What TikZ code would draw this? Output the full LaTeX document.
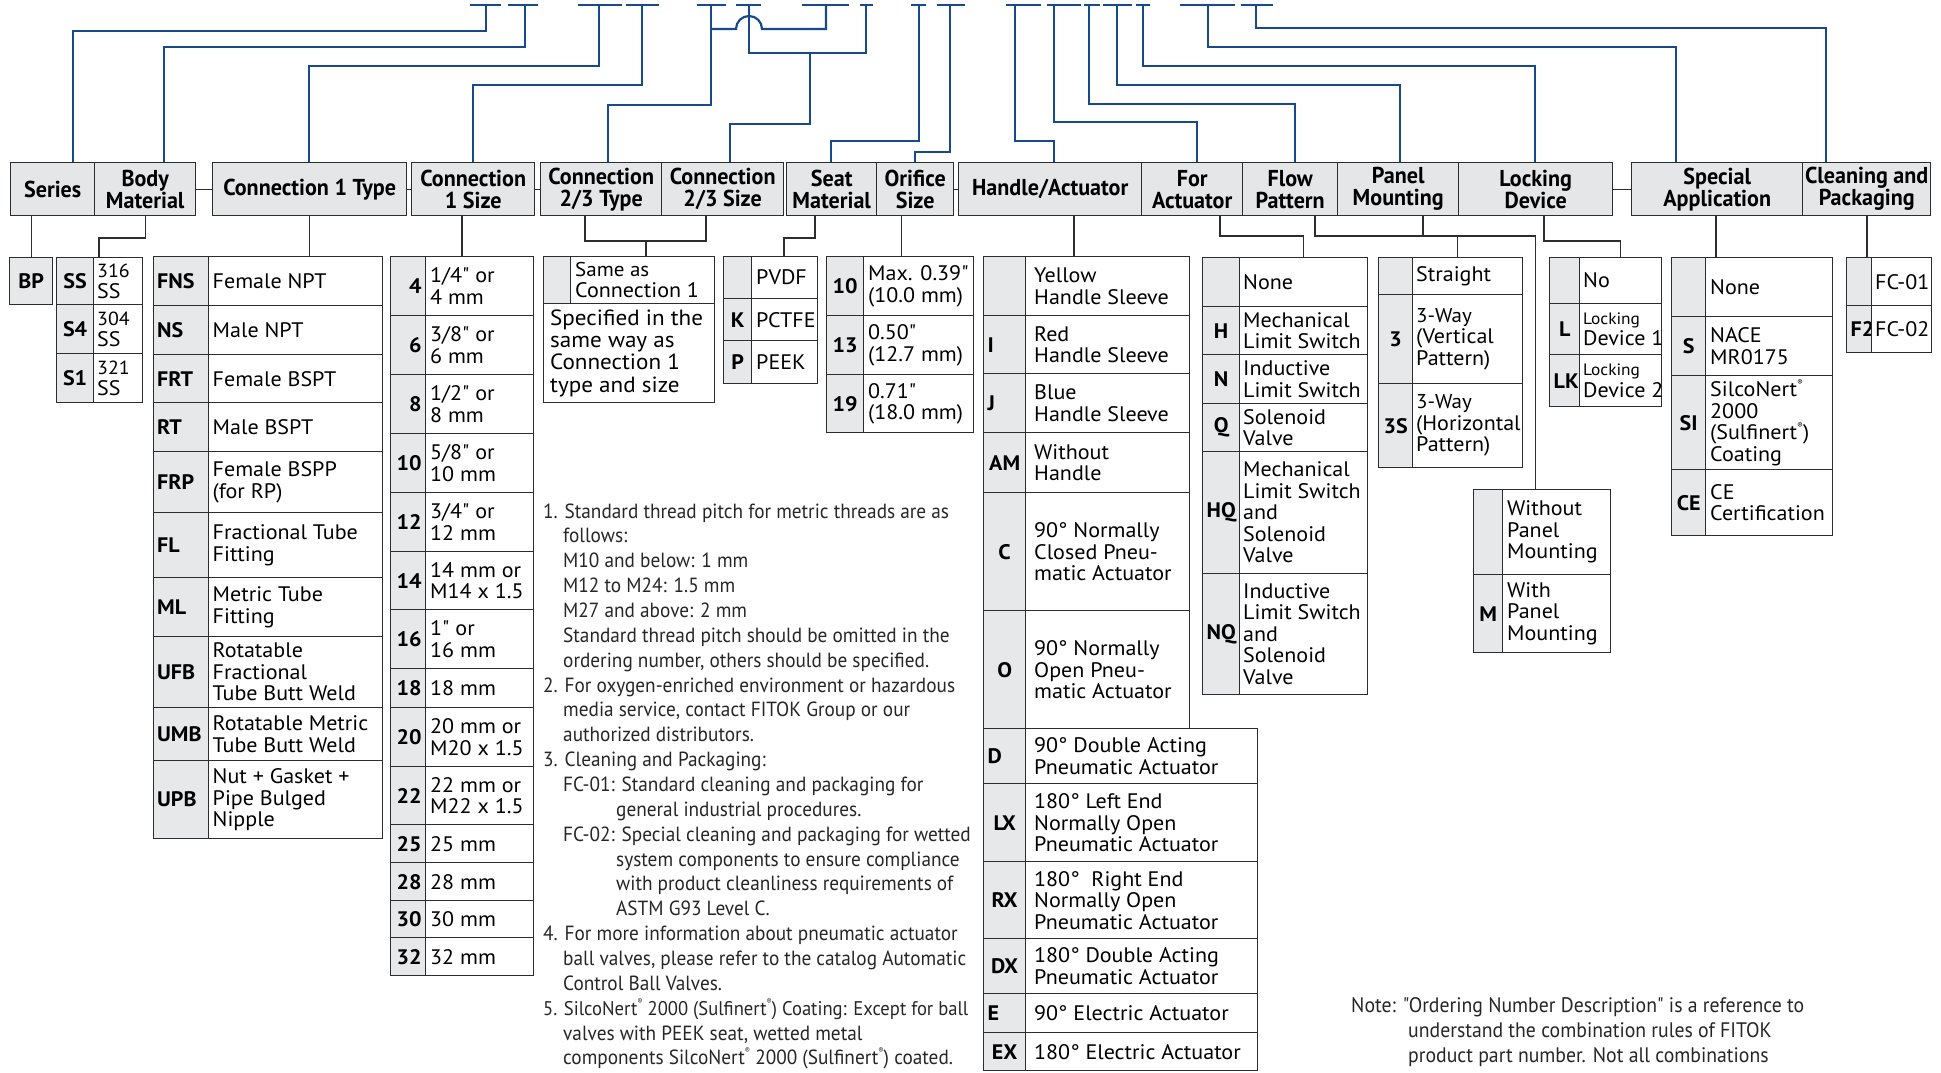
\documentclass[tikz,border=0pt]{standalone}
\usepackage{fontspec}
\setmainfont{PT Sans}
\newfontfamily\bodyfont[FakeStretch=1.05]{PT Sans}
\newfontfamily\hdrfont[FakeStretch=0.96]{PT Sans Bold}
\newfontfamily\notefont[FakeStretch=0.94]{PT Sans}
\usetikzlibrary{calc}
\definecolor{blueline}{RGB}{22,74,140}
\definecolor{lineg}{RGB}{45,45,45}
\definecolor{hdrg}{RGB}{229,230,232}
\definecolor{codeg}{RGB}{231,232,234}
\newcommand\regmark{\raisebox{0.55em}{\fontsize{8}{8}\selectfont ®}}
\newcommand\tightA{\fontsize{21}{19.5}\selectfont}
\newcommand\smallB{\fontsize{19}{19}\selectfont}
\newcommand\smallC{\fontsize{16.5}{16.5}\selectfont}
\def\dpad{5}
% #1 code opts, #2 name, #3 x0, #4 xc, #5 x1, #6 y0, #7 y1, #8 code, #9 desc
\newcommand\crow[9][]{%
  \pgfmathsetmacro\crowCW{#4-#3}%
  \pgfmathsetmacro\crowDW{#5-#4}%
  \pgfmathsetmacro\crowRH{#7-#6}%
  \pgfmathsetmacro\crowTW{#4-#3-8}%
  \node[ccell, minimum width=\crowCW pt, minimum height=\crowRH pt] (#2c) at (#3,#6) {};
  \node[ctext, text width=\crowTW pt, #1] (#2k) at (#2c.center) {#8};
  \node[dcell, minimum width=\crowDW pt, minimum height=\crowRH pt] (#2d) at (#4,#6) {};
  \node[dtext] (#2t) at ([xshift=\dpad pt]#2d.west) {#9};
}
\newcommand\hdrbox[4]{%
  \pgfmathsetmacro\hdrW{#3-#2}%
  \node[hdr, minimum width=\hdrW pt, minimum height=53pt] (#1) at (#2,162) {};
  \node[hdrt] (#1t) at (#1.center) {#4};
}
\newcommand\noteline[4]{%
  \pgfmathsetmacro\noteY{518+24.86*(#3-1)}%
  \node[note] (#1) at (#2,\noteY) {#4};
}
\begin{document}
\begin{tikzpicture}[x=1pt,y=-1pt,
  hdr/.style={draw=lineg, fill=hdrg, line width=1.4pt, inner sep=0pt, anchor=north west},
  hdrt/.style={font=\hdrfont\fontsize{23}{22}\selectfont, align=center, inner sep=0pt},
  ccell/.style={draw=lineg, fill=codeg, line width=1.3pt, inner sep=0pt, anchor=north west},
  dcell/.style={draw=lineg, fill=white, line width=1.3pt, inner sep=0pt, anchor=north west},
  ctext/.style={font=\bodyfont\bfseries\fontsize{21}{20}\selectfont, inner sep=0pt, align=center},
  dtext/.style={font=\bodyfont\fontsize{21}{21.5}\selectfont, inner sep=0pt, align=left, anchor=west},
  bl/.style={draw=blueline, line width=2.2pt},
  kl/.style={draw=lineg, line width=1.3pt},
  note/.style={font=\notefont\fontsize{20.5}{24}\selectfont, inner sep=0pt, anchor=base west, text=black!85},
]
\useasboundingbox (0,0) rectangle (1941,1073);
\fill[white] (0,0) rectangle (1941,1073);

% ---------------- headers
\hdrbox{hSer}{10}{94}{Series}
\hdrbox{hBody}{94}{195}{Body\\Material}
\hdrbox{hCaT}{212}{406}{Connection 1 Type}
\hdrbox{hCaS}{411}{534}{Connection\\1 Size}
\hdrbox{hCbT}{540}{661}{Connection\\2/3 Type}
\hdrbox{hCbS}{661}{783}{Connection\\2/3 Size}
\hdrbox{hSeat}{786}{876}{Seat\\Material}
\hdrbox{hOri}{876}{953}{Orifice\\Size}
\hdrbox{hHand}{958}{1141}{Handle/Actuator}
\hdrbox{hForA}{1141}{1242}{For\\Actuator}
\hdrbox{hFlow}{1242}{1337}{Flow\\Pattern}
\hdrbox{hPanel}{1337}{1458}{Panel\\Mounting}
\hdrbox{hLock}{1458}{1612}{Locking\\Device}
\hdrbox{hSpec}{1631}{1802}{Special\\Application}
\hdrbox{hClean}{1802}{1930}{Cleaning and\\Packaging}
\draw[kl] (hBody.east) -- (hCaT.west);
\draw[kl] (hCaT.east) -- (hCaS.west);
\draw[kl] (hCaS.east) -- (hCbT.west);
\draw[kl] (hOri.east) -- (hHand.west);
\draw[kl] (hLock.east) -- (hSpec.west);

% ---------------- top slots and blue connectors
\foreach \a/\b [count=\i] in {470/501,508/538,578/622,626/659,697/726,736/761,802/849,860/873,911/926,937/965,1006/1041,1047/1081,1084/1100,1103/1132,1136/1150,1180/1235,1241/1273}{
  \coordinate (slotL\i) at (\a,5);
  \coordinate (slotR\i) at (\b,5);
  \draw[bl] (slotL\i) -- (slotR\i);
}
\coordinate (s1) at (486,5);   \coordinate (e1) at (73,31);
\coordinate (s2) at (525,5);   \coordinate (e2) at (164,47);
\coordinate (s3) at (599,5);   \coordinate (e3) at (309,66);
\coordinate (s4) at (642,5);   \coordinate (e4) at (473,85);
\coordinate (s5) at (711,5);   \coordinate (e5) at (608,105);
\coordinate (s6) at (749,5);   \coordinate (s7) at (866,5);
\coordinate (s8) at (826,5);
\coordinate (m6) at (810,53);  \coordinate (e6) at (730,124);
\coordinate (s9) at (919,5);   \coordinate (e7) at (831,141);
\coordinate (s10) at (950,5);  \coordinate (e8) at (915,152);
\coordinate (s11) at (1015,5); \coordinate (e9) at (1054,141);
\coordinate (s12) at (1054,5); \coordinate (e10) at (1197,122);
\coordinate (s13) at (1089,5); \coordinate (e11) at (1295,104);
\coordinate (s14) at (1117,5); \coordinate (e12) at (1400,85);
\coordinate (s15) at (1143,5); \coordinate (e13) at (1535,66);
\coordinate (s16) at (1208,5); \coordinate (e14) at (1676,47);
\coordinate (s17) at (1256,5); \coordinate (e15) at (1826,28);

\draw[bl] (s1) |- (e1) -- (hSer.north -| e1);
\draw[bl] (s2) |- (e2) -- (hBody.north -| e2);
\draw[bl] (s3) |- (e3) -- (hCaT.north -| e3);
\draw[bl] (s4) |- (e4) -- (hCaS.north -| e4);
\draw[bl] (s5) |- (e5) -- (hCbT.north -| e5);
\draw[bl] (s8) -- (826,29) -- (762,29) arc[start angle=0, end angle=-180, radius=13] -- (711,29);
\draw[bl] (s6) -- (749,53) -- (866,53) -- (s7);
\draw[bl] (m6) |- (e6) -- (hCbS.north -| e6);
\draw[bl] (s9) |- (e7) -- (hSeat.north -| e7);
\draw[bl] (s10) |- (e8) -- (hOri.north -| e8);
\draw[bl] (s11) |- (e9) -- (hHand.north -| e9);
\draw[bl] (s12) |- (e10) -- (hForA.north -| e10);
\draw[bl] (s13) |- (e11) -- (hFlow.north -| e11);
\draw[bl] (s14) |- (e12) -- (hPanel.north -| e12);
\draw[bl] (s15) |- (e13) -- (hLock.north -| e13);
\draw[bl] (s16) |- (e14) -- (hSpec.north -| e14);
\draw[bl] (s17) |- (e15) -- (hClean.north -| e15);

% ---------------- tables
% Series
\node[ccell, minimum width=43pt, minimum height=47pt] (bpc) at (9,257) {};
\node[ctext] (bpk) at (bpc.center) {BP};

% Body material
\def\dpad{4}
\crow{bm1}{56}{93}{142}{257}{304}{SS}{\smallB 316\\SS}
\crow{bm2}{56}{93}{142}{304}{353}{S4}{\smallB 304\\SS}
\crow{bm3}{56}{93}{142}{353}{402}{S1}{\smallB 321\\SS}

% Connection 1 type
\def\dpad{4.5}
\crow[align=left]{ct1}{152.5}{208}{382}{256}{305}{FNS}{Female NPT}
\crow[align=left]{ct2}{152.5}{208}{382}{305}{354}{NS}{Male NPT}
\crow[align=left]{ct3}{152.5}{208}{382}{354}{402}{FRT}{Female BSPT}
\crow[align=left]{ct4}{152.5}{208}{382}{402}{451}{RT}{Male BSPT}
\crow[align=left]{ct5}{152.5}{208}{382}{451}{512}{FRP}{\tightA Female BSPP\\(for RP)}
\crow[align=left]{ct6}{152.5}{208}{382}{512}{577}{FL}{\tightA Fractional Tube\\Fitting}
\crow[align=left]{ct7}{152.5}{208}{382}{577}{636}{ML}{\tightA Metric Tube\\Fitting}
\crow[align=left]{ct8}{152.5}{208}{382}{636}{707}{UFB}{\tightA Rotatable\\Fractional\\Tube Butt Weld}
\crow[align=left]{ct9}{152.5}{208}{382}{707}{760}{UMB}{\tightA Rotatable Metric\\Tube Butt Weld}
\crow[align=left]{ct10}{152.5}{208}{382}{760}{838}{UPB}{\tightA Nut + Gasket +\\Pipe Bulged\\Nipple}

% Connection 1 size
\def\dpad{5}
\crow[align=right]{cs1}{390}{425}{533}{256}{315}{4}{\tightA 1/4" or\\4 mm}
\crow[align=right]{cs2}{390}{425}{533}{315}{374}{6}{\tightA 3/8" or\\6 mm}
\crow[align=right]{cs3}{390}{425}{533}{374}{433}{8}{\tightA 1/2" or\\8 mm}
\crow[align=right]{cs4}{390}{425}{533}{433}{492}{10}{\tightA 5/8" or\\10 mm}
\crow[align=right]{cs5}{390}{425}{533}{492}{551}{12}{\tightA 3/4" or\\12 mm}
\crow[align=right]{cs6}{390}{425}{533}{551}{609}{14}{\tightA 14 mm or\\M14 x 1.5}
\crow[align=right]{cs7}{390}{425}{533}{609}{668}{16}{\tightA 1" or\\16 mm}
\crow[align=right]{cs8}{390}{425}{533}{668}{707}{18}{18 mm}
\crow[align=right]{cs9}{390}{425}{533}{707}{766}{20}{\tightA 20 mm or\\M20 x 1.5}
\crow[align=right]{cs10}{390}{425}{533}{766}{824}{22}{\tightA 22 mm or\\M22 x 1.5}
\crow[align=right]{cs11}{390}{425}{533}{824}{862}{25}{25 mm}
\crow[align=right]{cs12}{390}{425}{533}{862}{900}{28}{28 mm}
\crow[align=right]{cs13}{390}{425}{533}{900}{937}{30}{30 mm}
\crow[align=right]{cs14}{390}{425}{533}{937}{975}{32}{32 mm}

% Connection 2/3
\def\dpad{5}
\crow{cc1}{543}{570}{714}{256}{303}{}{\fontsize{20}{20}\selectfont Same as\\Connection 1}
\node[dcell, minimum width=171pt, minimum height=99pt] (cc2d) at (543,303) {};
\node[dtext, font=\bodyfont\fontsize{22}{22.3}\selectfont] (cc2t) at ([xshift=7pt]cc2d.west) {Specified in the\\same way as\\Connection 1\\type and size};

% Seat material
\crow{sm1}{723}{751}{817}{256}{298}{}{PVDF}
\crow{sm2}{723}{751}{817}{298}{340}{K}{PCTFE}
\crow{sm3}{723}{751}{817}{340}{383}{P}{PEEK}

% Orifice
\crow{os1}{826}{863}{973}{256}{315}{10}{\tightA Max. 0.39"\\(10.0 mm)}
\crow{os2}{826}{863}{973}{315}{374}{13}{\tightA 0.50"\\(12.7 mm)}
\crow{os3}{826}{863}{973}{374}{432}{19}{\tightA 0.71"\\(18.0 mm)}

% Handle / actuator
\def\dpad{9}
\crow{ha1}{983}{1025}{1189}{256}{315}{}{\tightA Yellow\\Handle Sleeve}
\crow[align=left]{ha2}{983}{1025}{1189}{315}{373}{I}{\tightA Red\\Handle Sleeve}
\crow[align=left]{ha3}{983}{1025}{1189}{373}{432}{J}{\tightA Blue\\Handle Sleeve}
\crow{ha4}{983}{1025}{1189}{432}{492}{AM}{\tightA Without\\Handle}
\crow{ha5}{983}{1025}{1189}{492}{610}{C}{90° Normally\\Closed Pneu-\\matic Actuator}
\crow{ha6}{983}{1025}{1189}{610}{728}{O}{90° Normally\\Open Pneu-\\matic Actuator}
\crow[align=left]{ha7}{983}{1025}{1257}{728}{783}{D}{\tightA 90° Double Acting\\Pneumatic Actuator}
\crow{ha8}{983}{1025}{1257}{783}{861}{LX}{180° Left End\\Normally Open\\Pneumatic Actuator}
\crow{ha9}{983}{1025}{1257}{861}{938}{RX}{180°\ \ Right End\\Normally Open\\Pneumatic Actuator}
\crow{ha10}{983}{1025}{1257}{938}{993}{DX}{\tightA 180° Double Acting\\Pneumatic Actuator}
\crow[align=left]{ha11}{983}{1025}{1257}{993}{1032}{E}{90° Electric Actuator}
\crow{ha12}{983}{1025}{1257}{1032}{1070}{EX}{180° Electric Actuator}

% For actuator
\def\dpad{4}
\crow{fa1}{1202}{1239}{1367}{257}{306}{}{None}
\crow{fa2}{1202}{1239}{1367}{306}{354}{H}{Mechanical\\Limit Switch}
\crow{fa3}{1202}{1239}{1367}{354}{403}{N}{Inductive\\Limit Switch}
\crow{fa4}{1202}{1239}{1367}{403}{451}{Q}{Solenoid\\Valve}
\crow{fa5}{1202}{1239}{1367}{451}{573}{HQ}{Mechanical\\Limit Switch\\and\\Solenoid\\Valve}
\crow{fa6}{1202}{1239}{1367}{573}{694}{NQ}{Inductive\\Limit Switch\\and\\Solenoid\\Valve}

% Flow pattern
\def\dpad{4}
\crow{fp1}{1378}{1412}{1522}{257}{294}{}{Straight}
\crow{fp2}{1378}{1412}{1522}{294}{383}{3}{\fontsize{20}{21.5}\selectfont 3-Way\\(Vertical\\Pattern)}
\crow{fp3}{1378}{1412}{1522}{383}{467}{3S}{\fontsize{20}{21.5}\selectfont 3-Way\\(Horizontal\\Pattern)}

% Panel mounting
\def\dpad{5}
\crow{pm1}{1473}{1502}{1610}{489}{574}{}{\fontsize{21}{19}\selectfont Without\\Panel\\Mounting}
\crow{pm2}{1473}{1502}{1610}{574}{652}{M}{\fontsize{21}{19}\selectfont With\\Panel\\Mounting}

% Locking device
\def\dpad{4}
\crow{lk1}{1549}{1579}{1661}{257}{303}{}{No}
\crow{lk2}{1549}{1579}{1661}{303}{354}{L}{\smallC Locking\\Device 1}
\crow{lk3}{1549}{1579}{1661}{354}{406}{LK}{\smallC Locking\\Device 2}

% Special application
\def\dpad{5}
\crow{sa1}{1671}{1705}{1832}{257}{316}{}{None}
\crow{sa2}{1671}{1705}{1832}{316}{375}{S}{\tightA NACE\\MR0175}
\crow{sa3}{1671}{1705}{1832}{375}{469}{SI}{\tightA SilcoNert\regmark\\2000\\(Sulfinert\regmark)\\Coating}
\crow{sa4}{1671}{1705}{1832}{469}{535}{CE}{\tightA CE\\Certification}

% Cleaning and packaging
\def\dpad{4}
\crow{cp1}{1846}{1871}{1931}{257}{305}{}{FC-01}
\crow{cp2}{1846}{1871}{1931}{305}{352}{F2}{FC-02}

% ---------------- connectors header -> tables
\coordinate (bmJ) at (99,238);
\coordinate (ccA) at (585,241); \coordinate (ccB) at (706,241); \coordinate (ccM) at (646,241);
\coordinate (smJ) at (815,238); \coordinate (smT) at (784,238);
\coordinate (faJ) at (1220,236);
\coordinate (fpJ) at (1315,236);
\coordinate (pmJ) at (1423,236);
\coordinate (lkJ) at (1544,241);

\draw[kl] (hSer.south -| bpc.north) -- (bpc.north);
\draw[kl] (hBody.south) |- (bmJ) -- (bmJ |- bm1c.north);
\draw[kl] (hCaT.south) -- (hCaT.south |- ct1d.north);
\draw[kl] (hCaS.south -| cs1d.north west) ++(37,0) coordinate (csJ) -- (csJ |- cs1d.north);
\draw[kl] (hCbT.south -| ccA) -- (ccA) -- (ccB) -- (hCbS.south -| ccB);
\draw[kl] (ccM) -- (ccM |- cc1d.north);
\draw[kl] (hSeat.south -| smJ) -- (smJ) -- (smT) -- (smT |- sm1d.north);
\draw[kl] (hOri.south -| os1c.north east) ++(37,0) coordinate (osJ) -- (osJ |- os1d.north);
\draw[kl] (hHand.south -| ha1d.north west) ++(49,0) coordinate (haJ) -- (haJ |- ha1d.north);
\draw[kl] (hForA.south -| faJ) -- (faJ) -| (fa1d.north);
\draw[kl] (hFlow.south -| fpJ) -- (fpJ) -| ([xshift=-10pt]fp1d.north);
\draw[kl] (hPanel.south -| pmJ) -- (pmJ) -| ([xshift=-21pt]pm1d.north);
\draw[kl] (hLock.south -| lkJ) -- (lkJ) -| (lk1d.north);
\draw[kl] (hSpec.south -| sa1d.north west) ++(11,0) coordinate (saJ) -- (saJ |- sa1d.north);
\draw[kl] (hClean.south -| cp1d.north west) ++(-4,0) coordinate (cpJ) -- (cpJ |- cp1d.north);

% ---------------- notes
\noteline{n1}{543}{1}{1. Standard thread pitch for metric threads are as}
\noteline{n2}{563}{2}{follows:}
\noteline{n3}{563}{3}{M10 and below: 1 mm}
\noteline{n4}{563}{4}{M12 to M24: 1.5 mm}
\noteline{n5}{563}{5}{M27 and above: 2 mm}
\noteline{n6}{563}{6}{Standard thread pitch should be omitted in the}
\noteline{n7}{563}{7}{ordering number, others should be specified.}
\noteline{n8}{543}{8}{2. For oxygen-enriched environment or hazardous}
\noteline{n9}{563}{9}{media service, contact FITOK Group or our}
\noteline{n10}{563}{10}{authorized distributors.}
\noteline{n11}{543}{11}{3. Cleaning and Packaging:}
\noteline{n12}{563}{12}{FC-01: Standard cleaning and packaging for}
\noteline{n13}{616}{13}{general industrial procedures.}
\noteline{n14}{563}{14}{FC-02: Special cleaning and packaging for wetted}
\noteline{n15}{616}{15}{system components to ensure compliance}
\noteline{n16}{616}{16}{with product cleanliness requirements of}
\noteline{n17}{616}{17}{ASTM G93 Level C.}
\noteline{n18}{543}{18}{4. For more information about pneumatic actuator}
\noteline{n19}{563}{19}{ball valves, please refer to the catalog Automatic}
\noteline{n20}{563}{20}{Control Ball Valves.}
\noteline{n21}{543}{21}{\fontsize{19.8}{24}\selectfont 5. SilcoNert\regmark\ 2000 (Sulfinert\regmark) Coating: Except for ball}
\noteline{n22}{563}{22}{valves with PEEK seat, wetted metal}
\noteline{n23}{563}{23}{components SilcoNert\regmark\ 2000 (Sulfinert\regmark) coated.}

\node[note, font=\notefont\fontsize{21}{24}\selectfont] (r1) at (1351,1012) {Note: "Ordering Number Description" is a reference to};
\node[note, font=\notefont\fontsize{21}{24}\selectfont] (r2) at (1408,1037) {understand the combination rules of FITOK};
\node[note, font=\notefont\fontsize{21}{24}\selectfont] (r3) at (1408,1062) {product part number. Not all combinations};
\end{tikzpicture}
\end{document}
